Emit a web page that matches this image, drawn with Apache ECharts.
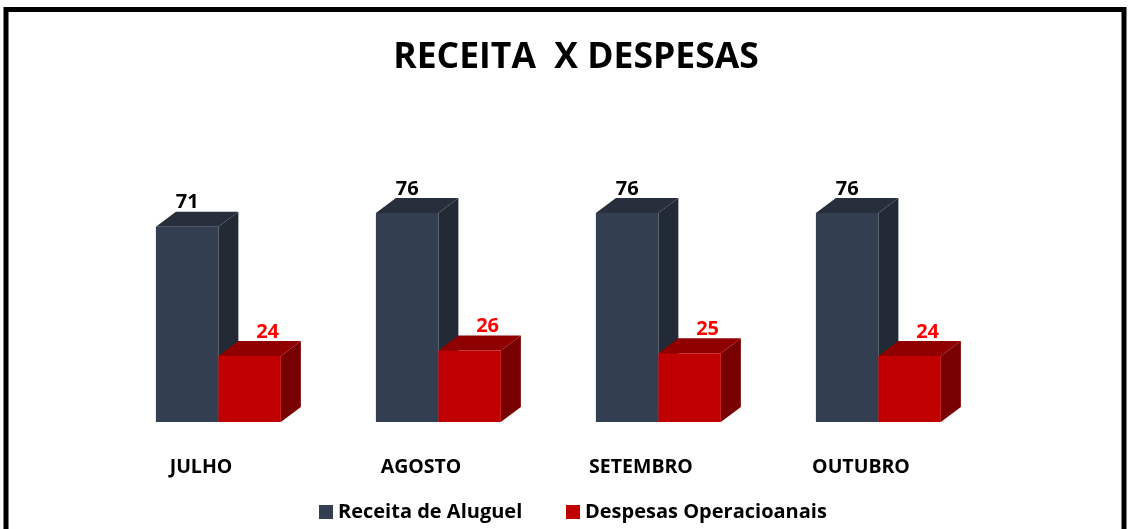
<!DOCTYPE html>
<html>
<head>
<meta charset="utf-8">
<script src="https://cdn.jsdelivr.net/npm/echarts@6/dist/echarts.min.js"></script>
<style>
  html, body { margin: 0; padding: 0; background: #fff; }
  #chart { width: 1130px; height: 529px; }
</style>
</head>
<body>
<div id="chart"></div>
<script>
// data
var months = ['JULHO', 'AGOSTO', 'SETEMBRO', 'OUTUBRO'];
var receita = [71, 76, 76, 76];
var despesas = [24, 26, 25, 24];

var FONT = '"Open Sans", sans-serif';

// draws one box (front, top, side) for a category, in pixels from the axes
function box(faces, off, labelColor, labelDx, labelGap) {
    return function (params, api) {
        var i = api.value(0);
        var v = api.value(1);
        var base = api.coord([i, 0]);
        var topPt = api.coord([i, v]);
        var bw = api.size([1, 0])[0];
        var w = bw * 0.284;
        var x0 = base[0] + bw * off;
        var x1 = x0 + w;
        var y0 = base[1];
        var y1 = topPt[1];
        var dx = 20, dy = 15;
        return {
            type: 'group',
            children: [
                { type: 'polygon', shape: { points: [[x1, y0], [x1, y1], [x1 + dx, y1 - dy], [x1 + dx, y0 - dy]] },
                  style: { fill: faces.side } },
                { type: 'polygon', shape: { points: [[x0, y1], [x1, y1], [x1 + dx, y1 - dy], [x0 + dx, y1 - dy]] },
                  style: { fill: faces.top } },
                { type: 'rect', shape: { x: x0, y: y1, width: w, height: y0 - y1 },
                  style: { fill: faces.front } },
                { type: 'text', style: {
                    text: String(v), x: x0 + w / 2 + labelDx, y: y1 - dy - labelGap,
                    textAlign: 'center', textVerticalAlign: 'bottom',
                    fill: labelColor, fontSize: 20, fontWeight: 'bold', fontFamily: FONT } }
            ]
        };
    };
}

var chart = echarts.init(document.getElementById('chart'));
chart.setOption({
    backgroundColor: '#fff',
    animation: false,
    title: {
        text: 'RECEITA  X DESPESAS',
        left: 571,
        textAlign: 'center',
        top: 35,
        textStyle: { fontSize: 35.5, fontWeight: 'bold', color: '#000', fontFamily: FONT }
    },
    legend: [
        { data: ['Receita de Aluguel'], left: 314, top: 497, icon: 'rect', itemWidth: 14, itemHeight: 14,
          textStyle: { fontSize: 20, fontWeight: 'bold', color: '#000', fontFamily: FONT } },
        { data: ['Despesas Operacioanais'], left: 561, top: 497, icon: 'rect', itemWidth: 14, itemHeight: 14,
          textStyle: { fontSize: 20, fontWeight: 'bold', color: '#000', fontFamily: FONT } }
    ],
    grid: { left: 91, right: 159, top: 202, bottom: 107 },
    xAxis: {
        type: 'category',
        data: months,
        axisLine: { show: false },
        axisTick: { show: false },
        axisLabel: { margin: 35, fontSize: 19.5, fontWeight: 'bold', color: '#000', fontFamily: FONT }
    },
    yAxis: {
        type: 'value', min: 0, max: 80, interval: 20, show: false,
        splitLine: { show: false }
    },
    graphic: [{
        type: 'rect', z: 100, silent: true,
        shape: { x: 6, y: 9.5, width: 1118, height: 600 },
        style: { fill: null, stroke: '#000', lineWidth: 5 }
    }],
    series: [
        {
            name: 'Receita de Aluguel',
            type: 'custom',
            itemStyle: { color: '#333F50' },
            data: receita.map(function (v, i) { return [i, v]; }),
            renderItem: box({ front: '#333F50', top: '#262F3B', side: '#222A35' }, -0.205, '#000', 0, -1)
        },
        {
            name: 'Despesas Operacioanais',
            type: 'custom',
            itemStyle: { color: '#C00000' },
            data: despesas.map(function (v, i) { return [i, v]; }),
            renderItem: box({ front: '#C00000', top: '#900000', side: '#780000' }, 0.079, '#FF0000', 18, -1)
        }
    ]
});
</script>
</body>
</html>
